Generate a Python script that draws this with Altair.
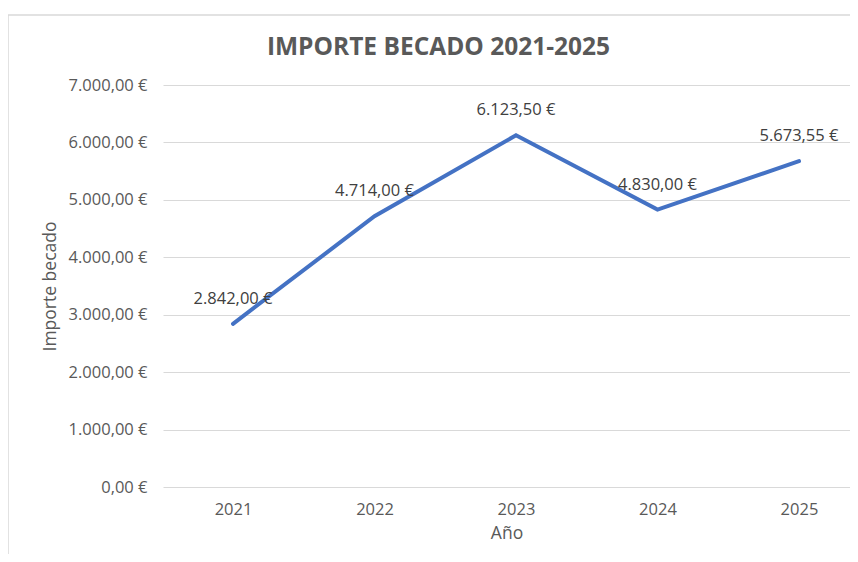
import altair as alt
import pandas as pd

years = ["2021", "2022", "2023", "2024", "2025"]
amounts = [2842.00, 4714.00, 6123.50, 4830.00, 5673.55]
labels = ["2.842,00 €", "4.714,00 €", "6.123,50 €", "4.830,00 €", "5.673,55 €"]
y_ticks = [0, 1000, 2000, 3000, 4000, 5000, 6000, 7000]

df = pd.DataFrame({"Año": years, "Importe": amounts, "Etiqueta": labels})

FONT = "Open Sans"
GREY = "#595959"

x_enc = alt.X(
    "Año:N",
    sort=years,
    scale=alt.Scale(type="point", padding=0.4276, align=0.5785),
    axis=alt.Axis(
        title="Año", labelAngle=0, domain=False, ticks=False, grid=False,
        labelPadding=14, titlePadding=7, labelFontSize=16.5, titleFontSize=17.5,
        labelColor=GREY, titleColor=GREY, labelFont=FONT, titleFont=FONT,
        titleFontWeight="normal",
    ),
)
y_enc = alt.Y(
    "Importe:Q",
    scale=alt.Scale(domain=[0, 7000], nice=False),
    axis=alt.Axis(
        title="Importe becado", values=y_ticks, domain=False, ticks=False,
        gridColor="#d9d9d9", gridWidth=1.2, labelPadding=16,
        labelFontSize=16.5, titleFontSize=17.5, labelColor=GREY, titleColor=GREY,
        labelFont=FONT, titleFont=FONT, titleFontWeight="normal",
        titleX=-113, titleY=201, titleAngle=-90, titleBaseline="middle",
        titleAlign="center",
        labelExpr="replace(replace(replace(format(datum.value, ',.2f'), ',', '#'), '.', ','), '#', '.') + ' €'",
    ),
)

line = alt.Chart(df).mark_line(color="#4472C4", strokeWidth=4, strokeCap="round").encode(
    x=x_enc, y=y_enc
)

text = alt.Chart(df).mark_text(dy=-25, fontSize=16.5, font=FONT, color="#404040").encode(
    x=alt.X("Año:N", sort=years), y="Importe:Q", text="Etiqueta:N"
)

border_df = pd.DataFrame({"k": [0]})
border_left = alt.Chart(border_df).mark_rule(color="#d9d9d9", strokeWidth=1.5).encode(
    x=alt.value(-155), y=alt.value(-70), y2=alt.value(480)
)
border_top = alt.Chart(border_df).mark_rule(color="#d9d9d9", strokeWidth=1.5).encode(
    x=alt.value(-155), x2=alt.value(700), y=alt.value(-70)
)

chart = alt.layer(border_left, border_top, line, text).properties(
    width=687,
    height=402,
    title=alt.TitleParams(
        "IMPORTE BECADO 2021-2025", font=FONT, fontSize=24.5, fontWeight="bold",
        color=GREY, anchor="middle", frame="group", dx=-68, dy=92,
        baseline="alphabetic", offset=27,
    ),
    autosize=alt.AutoSizeParams(type="none"),
    padding={"left": 155, "top": 77, "right": 0, "bottom": 67},
).configure_view(stroke=None)

chart.save("out.html", embed_options={"renderer": "svg", "actions": False})
